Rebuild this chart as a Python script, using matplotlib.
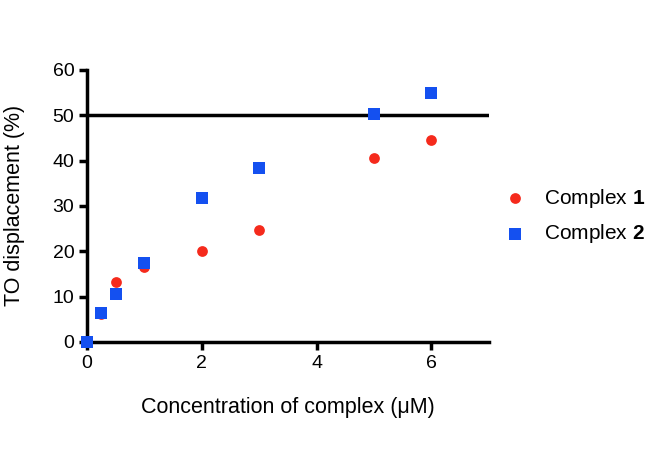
import matplotlib.pyplot as plt

plt.rcParams['font.family'] = ['Liberation Sans', 'DejaVu Sans']
plt.rcParams['mathtext.fontset'] = 'custom'
plt.rcParams['mathtext.rm'] = 'Liberation Sans'
plt.rcParams['mathtext.bf'] = 'Liberation Sans:bold'

x1 = [0, 0.25, 0.5, 1, 2, 3, 5, 6]
y1 = [0, 6.2, 13.3, 16.5, 20.0, 24.7, 40.5, 44.5]
x2 = [0, 0.25, 0.5, 1, 2, 3, 5, 6]
y2 = [0, 6.3, 10.5, 17.5, 31.8, 38.3, 50.3, 55.0]
threshold = 50

fig = plt.figure(figsize=(6.58, 4.75), dpi=100)
ax = fig.add_axes([0.132, 0.28, 0.611, 0.573])

ax.scatter(x1, y1, s=60, marker='o', color='#f52a1c', label=r'Complex $\mathbf{1}$',
           zorder=3, clip_on=False, linewidths=0)
ax.scatter(x2, y2, s=64, marker='s', color='#1450f0', label=r'Complex $\mathbf{2}$',
           zorder=4, clip_on=False, linewidths=0)
ax.axhline(threshold, color='black', lw=2.5, zorder=2)

ax.set_xlim(0, 7)
ax.set_ylim(0, 60)
ax.set_xticks([0, 2, 4, 6])
ax.set_yticks(range(0, 61, 10))
for s in ['top', 'right']:
    ax.spines[s].set_visible(False)
for s in ['left', 'bottom']:
    ax.spines[s].set_linewidth(2.5)
ax.tick_params(width=2.5, length=6, labelsize=14, pad=3)
ax.set_xlabel('Concentration of complex (μM)', fontsize=15.5, labelpad=18)
ax.set_ylabel('TO displacement (%)', fontsize=15.5, labelpad=20)

fig.legend(loc='center left', bbox_to_anchor=(0.77, 0.545), frameon=False,
           fontsize=15, handlelength=0.8, handletextpad=1.0, labelspacing=0.6,
           scatterpoints=1, borderaxespad=0, borderpad=0)

fig.savefig('out.png', dpi=100)
